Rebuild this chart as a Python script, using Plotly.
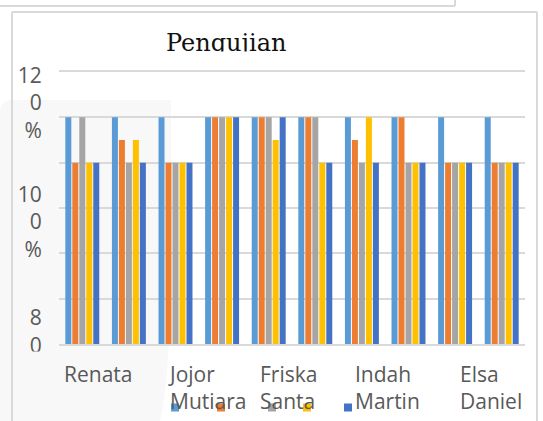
import plotly.graph_objects as go

# ---------------- data ----------------
groups = list(range(10))  # ten tested groups, left to right
axis_labels = ["Renata", "Jojor<br>Mutiara", "Friska<br>Santa", "Indah<br>Martin", "Elsa<br>Daniel"]
y_tick_text = ["12<br>0<br>%", "10<br>0<br>%", "8<br>0"]
series_names = ["Seri 1", "Seri 2", "Seri 3", "Seri 4", "Seri 5"]
series_1 = [1.0, 1.0, 1.0, 1.0, 1.0, 1.0, 1.0, 1.0, 1.0, 1.0]
series_2 = [0.8, 0.9, 0.8, 1.0, 1.0, 1.0, 0.9, 1.0, 0.8, 0.8]
series_3 = [1.0, 0.8, 0.8, 1.0, 1.0, 1.0, 0.8, 0.8, 0.8, 0.8]
series_4 = [0.8, 0.9, 0.8, 1.0, 0.9, 0.8, 1.0, 0.8, 0.8, 0.8]
series_5 = [0.8, 0.8, 0.8, 1.0, 1.0, 0.8, 0.8, 0.8, 0.8, 0.8]
series_values = [series_1, series_2, series_3, series_4, series_5]
colors = ["#5B9BD5", "#ED7D31", "#A5A5A5", "#FFC000", "#4472C4"]

# ---------------- layout helpers ----------------
W, H = 543, 421
L, R, T, B = 59, 18, 72, 77
PW, PH = W - L - R, H - T - B


def px(x):
    return (x - L) / PW


def py(y):
    return (T + PH - y) / PH


fig = go.Figure()
for name, vals, col in zip(series_names, series_values, colors):
    fig.add_trace(go.Bar(x=groups, y=vals, name=name, marker_color=col,
                         marker_line_width=0, showlegend=False))

# legend swatches (one small legend per series, as in the picture)
legend_centers = [175, 221, 272, 307, 348]
legend_keys = ["legend", "legend2", "legend3", "legend4", "legend5"]
for key, col in zip(legend_keys, colors):
    fig.add_trace(go.Scatter(x=[None], y=[None], mode="markers", name=" ",
                             marker=dict(symbol="square", size=8, color=col),
                             legend=key, showlegend=True, hoverinfo="skip"))

grid_col = "#d9d9d9"
label_col = "#595959"
patch_col = "#f8f8f8"
font_main = "Open Sans"

layout_legends = {}
for key, cx in zip(legend_keys, legend_centers):
    layout_legends[key] = dict(x=px(cx - 20), y=py(393), xanchor="left", yanchor="top",
                               bgcolor="rgba(0,0,0,0)", borderwidth=0,
                               font=dict(size=10, family=font_main, color=label_col),
                               itemwidth=30, tracegroupgap=0)

shapes = [
    # faint light background patch at the left
    dict(type="path", xref="paper", yref="paper", layer="below",
         path=(f"M {px(0)},{py(112)} Q {px(0)},{py(100)} {px(14)},{py(100)} "
               f"L {px(171)},{py(100)} L {px(171)},{py(290)} "
               f"Q {px(169)},{py(380)} {px(160)},{py(421)} L {px(0)},{py(421)} Z"),
         fillcolor=patch_col, line=dict(width=0)),
    # frame of previous box at the very top
    dict(type="line", xref="paper", yref="paper", x0=px(0), x1=px(455), y0=py(6), y1=py(6),
         line=dict(color=grid_col, width=2)),
    dict(type="line", xref="paper", yref="paper", x0=px(455), x1=px(455), y0=py(0), y1=py(6),
         line=dict(color=grid_col, width=2)),
    # chart frame
    dict(type="line", xref="paper", yref="paper", x0=px(12), x1=px(12), y0=py(12), y1=py(430),
         line=dict(color=grid_col, width=2)),
    dict(type="line", xref="paper", yref="paper", x0=px(12), x1=px(537), y0=py(12), y1=py(12),
         line=dict(color=grid_col, width=2)),
    dict(type="line", xref="paper", yref="paper", x0=px(537), x1=px(537), y0=py(12), y1=py(430),
         line=dict(color=grid_col, width=2)),
]

annotations = [
    dict(text="Pengujian", xref="paper", yref="paper", x=px(226), y=py(42.5),
         xanchor="center", yanchor="middle", showarrow=False,
         font=dict(family="DejaVu Serif", size=24, color="#111111")),
    # the picture crops the lower part of the title and of the last y label
    dict(text=" ", xref="paper", yref="paper", x=px(226), y=py(51), xanchor="center",
         yanchor="top", showarrow=False, width=170, height=14, bgcolor="white", borderpad=0),
    dict(text=" ", xref="paper", yref="paper", x=px(36), y=py(351), xanchor="center",
         yanchor="top", showarrow=False, width=40, height=8, bgcolor=patch_col, borderpad=0),
]
label_x = [-0.44, 1.8, 3.77, 5.81, 8.06]
for lx, txt in zip(label_x, axis_labels):
    annotations.append(dict(text=txt, xref="x", yref="paper", x=lx, y=py(358),
                            xanchor="left", yanchor="top", align="left", showarrow=False,
                            font=dict(family=font_main, size=21, color=label_col)))

fig.update_layout(
    width=W, height=H,
    margin=dict(l=L, r=R, t=T, b=B, pad=0, autoexpand=False),
    paper_bgcolor="white", plot_bgcolor="rgba(0,0,0,0)",
    barmode="group", bargap=0.25, bargroupgap=0.143,
    shapes=shapes, annotations=annotations,
    **layout_legends,
)
fig.update_xaxes(range=[-0.5, 9.5], showticklabels=False, showgrid=False, zeroline=False,
                 showline=True, mirror=True, linecolor=grid_col, linewidth=1.5, ticks="",
                 fixedrange=True)
fig.update_yaxes(range=[0, 1.2], tickmode="array", tickvals=[1.063, 0.538, 0.055],
                 ticktext=y_tick_text, showgrid=False, zeroline=False,
                 ticks="outside", ticklen=12, tickcolor="rgba(0,0,0,0)",
                 tickfont=dict(family=font_main, size=21, color=label_col),
                 minor=dict(tickmode="linear", tick0=0, dtick=0.2, showgrid=True,
                            gridcolor=grid_col, gridwidth=1.5, ticks=""),
                 fixedrange=True)

fig.write_html("out.html", config={"displayModeBar": False},
               post_script="document.body.style.margin='0';")
